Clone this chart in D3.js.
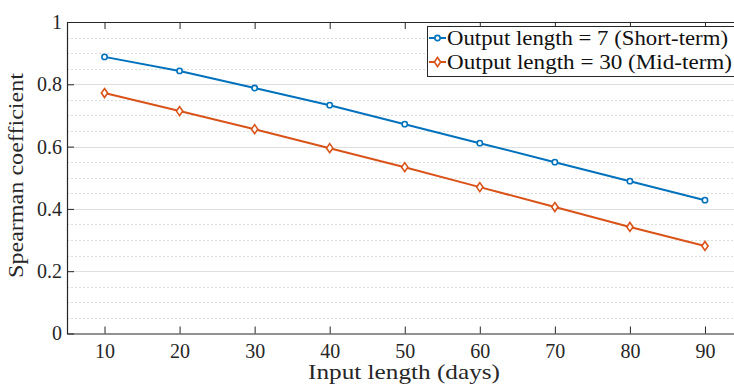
<!DOCTYPE html>
<html>
<head>
<meta charset="utf-8">
<script src="https://cdn.jsdelivr.net/npm/d3@7"></script>
<style>
  body { margin: 0; background: #fff; }
  svg { display: block; }
  svg text { font-family: "Liberation Serif", "Times New Roman", Tinos, "DejaVu Serif", serif; }
</style>
</head>
<body>
<script>
// data
const inputLengths = [10, 20, 30, 40, 50, 60, 70, 80, 90];
const shortTerm = [0.888, 0.843, 0.788, 0.733, 0.672, 0.611, 0.550, 0.489, 0.428];
const midTerm = [0.772, 0.714, 0.656, 0.595, 0.534, 0.470, 0.406, 0.342, 0.281];
const seriesNames = ["Output length = 7 (Short-term)", "Output length = 30 (Mid-term)"];
const yTicks = [0, 0.2, 0.4, 0.6, 0.8, 1];

const width = 734;
const height = 387;
const marginTop = 22;
const marginLeft = 67;
const plotBottom = 333.5;
const plotRight = 742.5; // axes run past the right edge of the picture

const x = d3.scaleLinear().domain([5, 95]).range([marginLeft, plotRight]);
const y = d3.scaleLinear().domain([0, 1]).range([plotBottom, marginTop]);

const axisColor = "#262626";
const colors = ["#0072BD", "#D95319"];

const svg = d3.select("body").append("svg")
    .attr("width", width)
    .attr("height", height);

// minor grid (dotted)
svg.append("g")
    .selectAll("line")
    .data(d3.range(0.05, 1, 0.05).filter(v => Math.abs(v * 5 - Math.round(v * 5)) > 1e-6))
    .join("line")
    .attr("x1", marginLeft).attr("x2", plotRight)
    .attr("y1", d => Math.round(y(d)) + 0.5).attr("y2", d => Math.round(y(d)) + 0.5)
    .attr("stroke", "#dcdcdc")
    .attr("stroke-dasharray", "2,2");

// major grid
svg.append("g")
    .selectAll("line")
    .data(yTicks.slice(1, -1))
    .join("line")
    .attr("x1", marginLeft).attr("x2", plotRight)
    .attr("y1", d => Math.round(y(d)) + 0.5).attr("y2", d => Math.round(y(d)) + 0.5)
    .attr("stroke", "#dedede");

// axes (ticks inside, box on)
const tickLen = 7;
const styleAxis = g => {
    g.attr("font-family", null).attr("font-size", null);
    g.select(".domain").attr("stroke", axisColor).attr("stroke-width", 1.2);
    g.selectAll(".tick line").attr("stroke", axisColor);
    g.selectAll("text").attr("fill", axisColor).style("font-size", "20px");
};

svg.append("g")
    .attr("transform", `translate(0,${plotBottom})`)
    .call(d3.axisBottom(x).tickValues(inputLengths).tickSizeInner(-tickLen).tickSizeOuter(0).tickPadding(10))
    .call(styleAxis)
    .call(g => g.selectAll("text").attr("dy", "0.71em"));

svg.append("g")
    .attr("transform", `translate(0,${marginTop})`)
    .call(d3.axisTop(x).tickValues(inputLengths).tickSizeInner(-tickLen).tickSizeOuter(0).tickFormat(""))
    .call(styleAxis);

svg.append("g")
    .attr("transform", `translate(${marginLeft},0)`)
    .call(d3.axisLeft(y).tickValues(yTicks).tickFormat(d => d3.format("")(d)).tickSizeInner(-tickLen).tickSizeOuter(0).tickPadding(5))
    .call(styleAxis);

svg.append("g")
    .attr("transform", `translate(${plotRight},0)`)
    .call(d3.axisRight(y).tickValues(yTicks).tickSizeInner(-tickLen).tickSizeOuter(0).tickFormat(""))
    .call(styleAxis);

// axis titles
svg.append("text")
    .attr("x", 308)
    .attr("y", 379)
    .attr("fill", axisColor)
    .attr("textLength", 192)
    .attr("lengthAdjust", "spacingAndGlyphs")
    .style("font-size", "21px")
    .text("Input length (days)");

svg.append("text")
    .attr("transform", "translate(23,278) rotate(-90)")
    .attr("fill", axisColor)
    .attr("textLength", 205)
    .attr("lengthAdjust", "spacingAndGlyphs")
    .style("font-size", "21px")
    .text("Spearman coefficient");

// series
const series = [shortTerm, midTerm];
const line = d3.line().x((d, i) => x(inputLengths[i])).y(d => y(d));
const diamond = s => `M0,${-s}L${s * 0.7},0L0,${s}L${-s * 0.7},0Z`;

series.forEach((vals, k) => {
    svg.append("path")
        .datum(vals)
        .attr("fill", "none")
        .attr("stroke", colors[k])
        .attr("stroke-width", 2)
        .attr("d", line);

    svg.append("g").selectAll("path")
        .data(vals)
        .join("path")
        .attr("transform", (d, i) => `translate(${x(inputLengths[i])},${y(d)})`)
        .attr("fill", "#fff")
        .attr("stroke", colors[k])
        .attr("stroke-width", 1.6)
        .attr("d", k === 0 ? d3.symbol(d3.symbolCircle, 22)() : diamond(4.5));
});

// legend
const legendWidths = [281, 285];
const legend = svg.append("g");
legend.append("rect")
    .attr("x", 427.5).attr("y", 26.5)
    .attr("width", 330).attr("height", 50)
    .attr("fill", "#fff")
    .attr("stroke", axisColor);

seriesNames.forEach((name, k) => {
    const ly = 38 + k * 24;
    legend.append("line")
        .attr("x1", 429).attr("x2", 446)
        .attr("y1", ly).attr("y2", ly)
        .attr("stroke", colors[k]).attr("stroke-width", 2);
    legend.append("path")
        .attr("transform", `translate(437.5,${ly})`)
        .attr("fill", "#fff").attr("stroke", colors[k]).attr("stroke-width", 1.6)
        .attr("d", k === 0 ? d3.symbol(d3.symbolCircle, 22)() : diamond(4.5));
    legend.append("text")
        .attr("x", 447).attr("y", ly + 6.5)
        .attr("fill", "#111")
        .attr("textLength", legendWidths[k])
        .attr("lengthAdjust", "spacingAndGlyphs")
        .style("font-size", "21px")
        .text(name);
});
</script>
</body>
</html>
